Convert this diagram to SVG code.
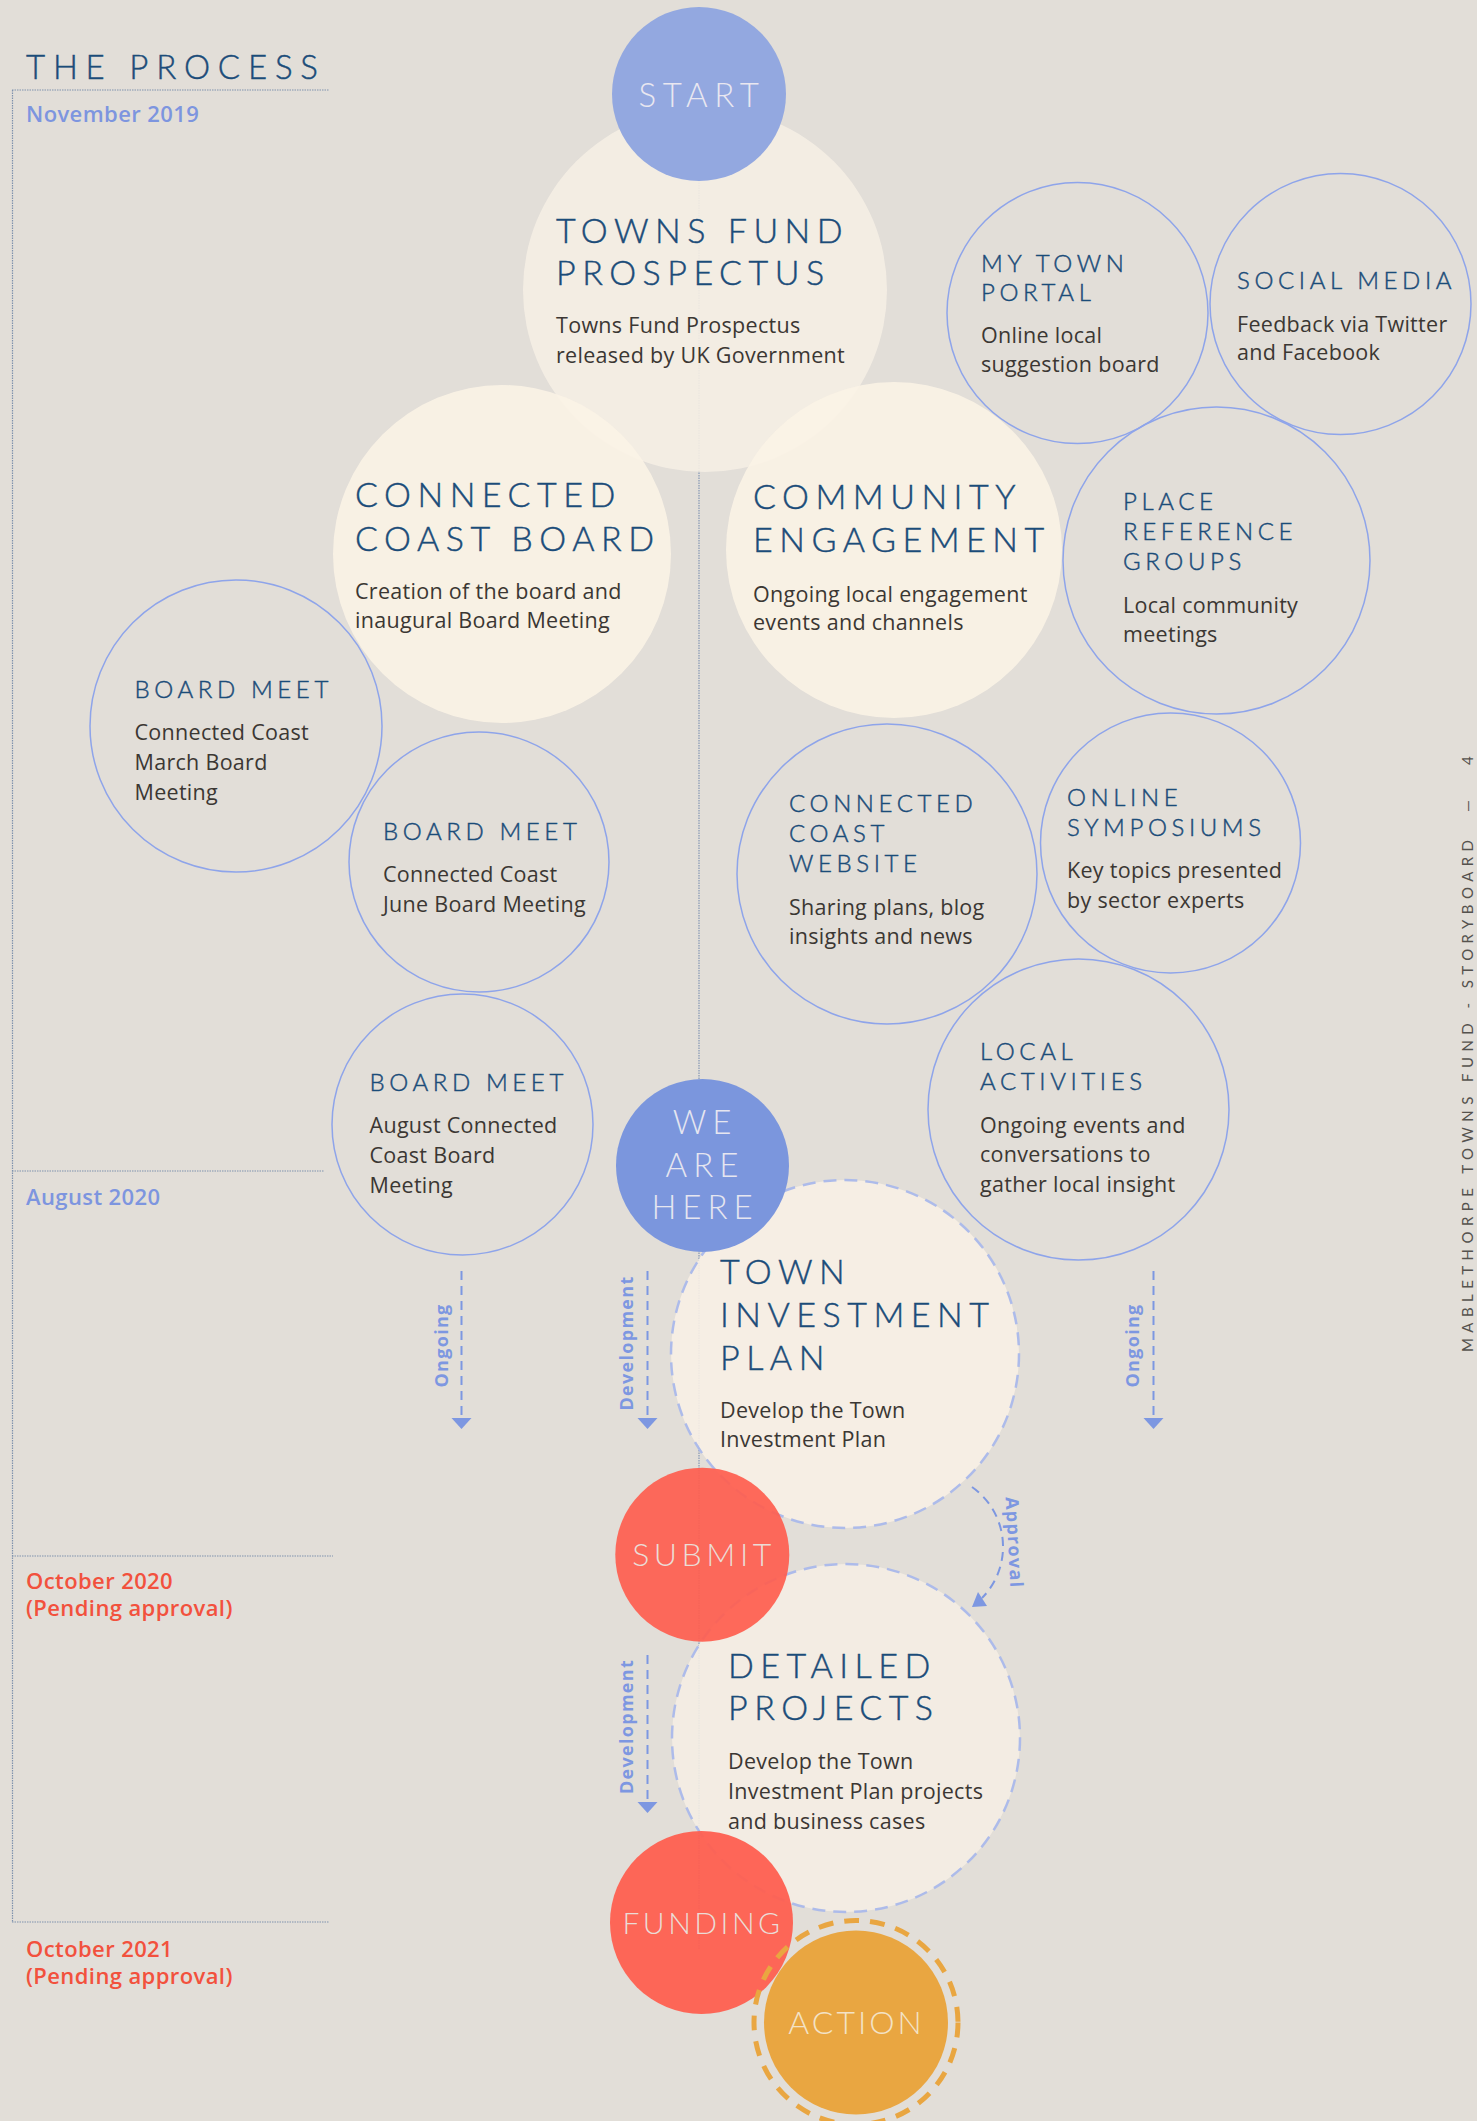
<svg xmlns="http://www.w3.org/2000/svg" width="1477" height="2121" viewBox="0 0 1477 2121">
<defs>
<style>
.bg{fill:#e2ded8}
.tl{stroke:#7f92ad;stroke-width:1.2;stroke-dasharray:1.5 1;fill:none}
.date{font-family:"Open Sans","Liberation Sans",sans-serif;font-weight:600;font-size:22px;letter-spacing:0.4px}
.blue{fill:#7d95df}
.red{fill:#f2513d}
.head{font-family:Lato,"Open Sans",sans-serif;font-weight:300;fill:#1b4c79;stroke:#1b4c79;stroke-width:0.45px}
.big{font-size:34px;letter-spacing:6.5px}
.sm{font-size:24px;letter-spacing:4.6px}
.body{font-family:"Open Sans","Liberation Sans",sans-serif;font-size:21.5px;fill:#3b3733;letter-spacing:0.3px}
.cream{opacity:0.9}
.ring{fill:none;stroke:#8ea4ea;stroke-width:1.5}
.dring{stroke:#a8b8ec;stroke-width:2.5;stroke-dasharray:13 8}
.ctext{font-family:Lato,"Open Sans",sans-serif;font-weight:300;text-anchor:middle}
.conn{fill:none;stroke:#7d97e1;stroke-width:2;stroke-dasharray:9 6}
.ah{fill:#7d97e1}
.clab{font-family:"Open Sans","Liberation Sans",sans-serif;font-weight:700;font-size:18px;letter-spacing:1.3px;fill:#7d97e1;text-anchor:middle}
</style>
</defs>
<rect class="bg" x="0" y="0" width="1477" height="2121"/>

<g id="timeline">
<text class="head" x="26" y="79" font-size="33" letter-spacing="7.8" fill="#1a4a78">THE PROCESS</text>
<line class="tl" x1="12" y1="90" x2="329" y2="90"/>
<line class="tl" x1="12.5" y1="90" x2="12.5" y2="1922"/>
<line class="tl" x1="12" y1="1171" x2="324" y2="1171"/>
<line class="tl" x1="12" y1="1556" x2="333" y2="1556"/>
<line class="tl" x1="12" y1="1922" x2="329" y2="1922"/>
<text class="date blue" x="26" y="122">November 2019</text>
<text class="date blue" x="26" y="1205">August 2020</text>
<text class="date red" x="26" y="1589">October 2020</text>
<text class="date red" x="26" y="1616">(Pending approval)</text>
<text class="date red" x="26" y="1957">October 2021</text>
<text class="date red" x="26" y="1984">(Pending approval)</text>
</g>

<g id="side-label" font-family="Lato, 'Open Sans', sans-serif" font-size="15" fill="#55524e">
<text transform="translate(1473,1352) rotate(-90)" textLength="512" lengthAdjust="spacing">MABLETHORPE TOWNS FUND - STORYBOARD</text>
<text transform="translate(1473,812) rotate(-90)">—</text>
<text transform="translate(1473,765) rotate(-90)">4</text>
</g>

<g id="connectors-spine">
<line x1="699" y1="180" x2="699" y2="1950" stroke="#8496b4" stroke-width="1.2" stroke-dasharray="1.5 1"/>
</g>

<g id="prospectus">
<circle class="cream" cx="705" cy="290" r="182" fill="#f5eee4"/>
<text class="head big" x="556" y="243">TOWNS FUND</text>
<text class="head big" x="556" y="285">PROSPECTUS</text>
<text class="body" x="556" y="333">Towns Fund Prospectus</text>
<text class="body" x="556" y="363">released by UK Government</text>
</g>

<g id="connected-coast-board">
<circle class="cream" cx="502" cy="554" r="169" fill="#fbf3e5"/>
<text class="head big" x="355" y="507">CONNECTED</text>
<text class="head big" x="355" y="551">COAST BOARD</text>
<text class="body" x="355" y="599">Creation of the board and</text>
<text class="body" x="355" y="628">inaugural Board Meeting</text>
</g>

<g id="community-engagement">
<circle class="cream" cx="894" cy="550" r="168" fill="#fbf3e5"/>
<text class="head big" x="753" y="509">COMMUNITY</text>
<text class="head big" x="753" y="552">ENGAGEMENT</text>
<text class="body" x="753" y="602">Ongoing local engagement</text>
<text class="body" x="753" y="630">events and channels</text>
</g>

<g id="start">
<circle cx="699" cy="94" r="87" fill="#93a8e0"/>
<text class="ctext" x="702" y="107" font-size="33" letter-spacing="6.5" fill="#e9e7f0">START</text>
</g>

<g id="my-town-portal">
<circle class="ring" cx="1077.5" cy="313" r="130.5"/>
<text class="head sm" x="981" y="272">MY TOWN</text>
<text class="head sm" x="981" y="301">PORTAL</text>
<text class="body" x="981" y="343">Online local</text>
<text class="body" x="981" y="372">suggestion board</text>
</g>

<g id="social-media">
<circle class="ring" cx="1340.5" cy="304" r="130.5"/>
<text class="head sm" x="1237" y="289">SOCIAL MEDIA</text>
<text class="body" x="1237" y="332">Feedback via Twitter</text>
<text class="body" x="1237" y="360">and Facebook</text>
</g>

<g id="place-reference-groups">
<circle class="ring" cx="1216.5" cy="560.5" r="153.5"/>
<text class="head sm" x="1123" y="510">PLACE</text>
<text class="head sm" x="1123" y="540">REFERENCE</text>
<text class="head sm" x="1123" y="570">GROUPS</text>
<text class="body" x="1123" y="613">Local community</text>
<text class="body" x="1123" y="642">meetings</text>
</g>

<g id="board-meet-march">
<circle class="ring" cx="236" cy="726" r="146"/>
<text class="head sm" x="134.5" y="698">BOARD MEET</text>
<text class="body" x="134.5" y="740">Connected Coast</text>
<text class="body" x="134.5" y="770">March Board</text>
<text class="body" x="134.5" y="800">Meeting</text>
</g>

<g id="board-meet-june">
<circle class="ring" cx="479" cy="862" r="130"/>
<text class="head sm" x="383" y="840">BOARD MEET</text>
<text class="body" x="383" y="882">Connected Coast</text>
<text class="body" x="383" y="912">June Board Meeting</text>
</g>

<g id="connected-coast-website">
<circle class="ring" cx="887" cy="874" r="150"/>
<text class="head sm" x="789" y="812">CONNECTED</text>
<text class="head sm" x="789" y="842">COAST</text>
<text class="head sm" x="789" y="872">WEBSITE</text>
<text class="body" x="789" y="915">Sharing plans, blog</text>
<text class="body" x="789" y="944">insights and news</text>
</g>

<g id="online-symposiums">
<circle class="ring" cx="1170.5" cy="843" r="130"/>
<text class="head sm" x="1067" y="806">ONLINE</text>
<text class="head sm" x="1067" y="836">SYMPOSIUMS</text>
<text class="body" x="1067" y="878">Key topics presented</text>
<text class="body" x="1067" y="908">by sector experts</text>
</g>

<g id="local-activities">
<circle class="ring" cx="1078.5" cy="1109.5" r="150.5"/>
<text class="head sm" x="980" y="1060">LOCAL</text>
<text class="head sm" x="980" y="1090">ACTIVITIES</text>
<text class="body" x="980" y="1133">Ongoing events and</text>
<text class="body" x="980" y="1162">conversations to</text>
<text class="body" x="980" y="1192">gather local insight</text>
</g>

<g id="board-meet-august">
<circle class="ring" cx="462.5" cy="1124.5" r="130.5"/>
<text class="head sm" x="369.5" y="1091">BOARD MEET</text>
<text class="body" x="369.5" y="1133">August Connected</text>
<text class="body" x="369.5" y="1163">Coast Board</text>
<text class="body" x="369.5" y="1193">Meeting</text>
</g>

<g id="town-investment-plan">
<circle class="cream dring" cx="845" cy="1354" r="174" fill="#f9f0e6"/>
<text class="head big" x="720" y="1284">TOWN</text>
<text class="head big" x="720" y="1327">INVESTMENT</text>
<text class="head big" x="720" y="1370">PLAN</text>
<text class="body" x="720" y="1418">Develop the Town</text>
<text class="body" x="720" y="1447">Investment Plan</text>
</g>

<g id="detailed-projects">
<circle class="cream dring" cx="846" cy="1738" r="174" fill="#f5eee5"/>
<text class="head big" x="728" y="1678">DETAILED</text>
<text class="head big" x="728" y="1720">PROJECTS</text>
<text class="body" x="728" y="1769">Develop the Town</text>
<text class="body" x="728" y="1799">Investment Plan projects</text>
<text class="body" x="728" y="1829">and business cases</text>
</g>

<g id="we-are-here">
<circle cx="702.5" cy="1165.5" r="86.5" fill="#7b96dd"/>
<text class="ctext" x="705" y="1134" font-size="33" letter-spacing="6" fill="#e6e6f0">WE</text>
<text class="ctext" x="705" y="1177" font-size="33" letter-spacing="6" fill="#e6e6f0">ARE</text>
<text class="ctext" x="705" y="1219" font-size="33" letter-spacing="6" fill="#e6e6f0">HERE</text>
</g>

<g id="submit">
<circle cx="702.3" cy="1554.7" r="87" fill="#fe5f50" opacity="0.93"/>
<text class="ctext" x="704" y="1566" font-size="32" letter-spacing="4.5" fill="#ebdcd6">SUBMIT</text>
</g>

<g id="funding">
<circle cx="701.5" cy="1922.5" r="91.5" fill="#fe5f50" opacity="0.95"/>
<text class="ctext" x="703" y="1934" font-size="30" letter-spacing="3.5" fill="#ebdcd6">FUNDING</text>
</g>

<g id="action">
<circle cx="856" cy="2022.5" r="102" fill="none" stroke="#e9a641" stroke-width="5" stroke-dasharray="15 11"/>
<circle cx="856" cy="2022.5" r="92" fill="#e9a641"/>
<text class="ctext" x="856.5" y="2034" font-size="32" letter-spacing="3" fill="#f3e2c6">ACTION</text>
</g>

<g id="connectors">
<line class="conn" x1="461.5" y1="1271" x2="461.5" y2="1419"/>
<polygon class="ah" points="451.5,1418 471.5,1418 461.5,1429"/>
<text class="clab" transform="translate(448,1345.5) rotate(-90)">Ongoing</text>

<line class="conn" x1="647.5" y1="1271" x2="647.5" y2="1419"/>
<polygon class="ah" points="637.5,1418 657.5,1418 647.5,1429"/>
<text class="clab" transform="translate(633,1343) rotate(-90)">Development</text>

<line class="conn" x1="1153.5" y1="1271" x2="1153.5" y2="1419"/>
<polygon class="ah" points="1143.5,1418 1163.5,1418 1153.5,1429"/>
<text class="clab" transform="translate(1139,1345.5) rotate(-90)">Ongoing</text>

<line class="conn" x1="647.5" y1="1655" x2="647.5" y2="1803"/>
<polygon class="ah" points="637.5,1802 657.5,1802 647.5,1813"/>
<text class="clab" transform="translate(633,1726.5) rotate(-90)">Development</text>

<path class="conn" d="M 972 1487 A 73 73 0 0 1 982 1598"/>
<polygon class="ah" points="972,1607 987,1606 978,1592"/>
<text class="clab" font-weight="600" transform="translate(1008,1543) rotate(87)">Approval</text>
</g>
</svg>
